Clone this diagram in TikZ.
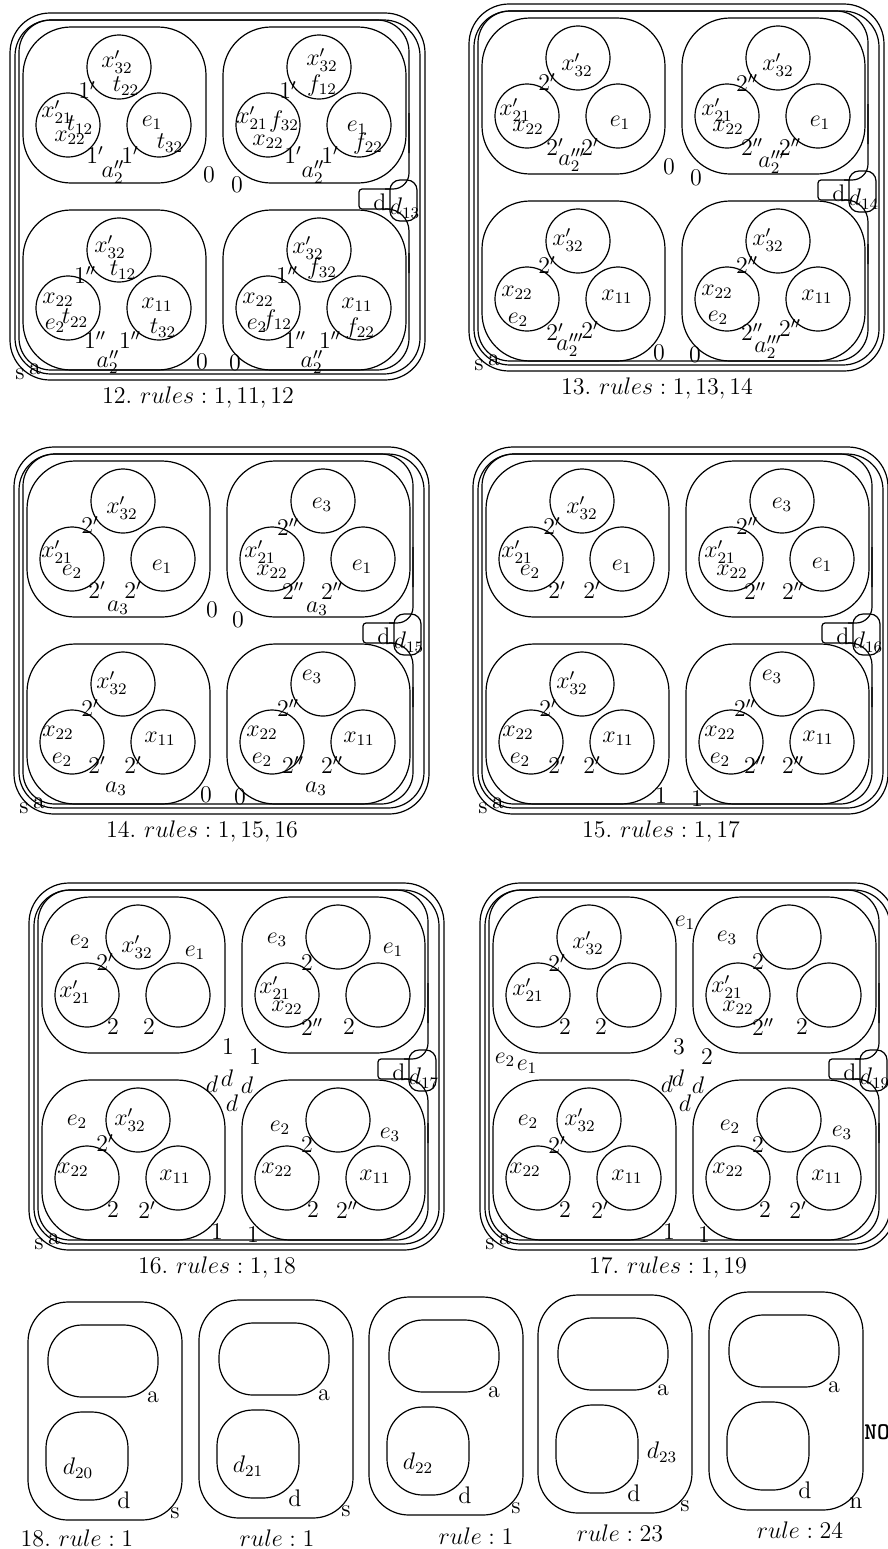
\documentclass[tikz,border=0pt,12pt]{standalone}
\usepackage{amssymb}
\usetikzlibrary{positioning}
\newcounter{lab}
% a text label at a pixel position
\newcommand{\lb}[2]{\stepcounter{lab}\node[lbl] (lab\thelab) at (#1) {#2};}
% one big configuration: skin s, membrane a, membrane d with notch, four cells
\newcommand{\bigpanel}[4]{%
\begin{scope}[shift={(#1,#2)}]
  \draw[memb,rounded corners=20pt] (0,0) rectangle (415,367);
  \draw[memb,rounded corners=18pt] (5,7) rectangle (410,361);
  \draw[memb,rounded corners=16pt] (399,240) -- (399,357) -- (9,357) -- (9,7) -- (399,7) -- (399,140);
  \draw[memb,rounded corners=8pt] (399,100) -- (399,176) -- (375,176);
  \draw[memb,rounded corners=1.5pt] (380,176) -- (349,176) -- (349,196) -- (380,196);
  \draw[memb,rounded corners=11pt] (375,196) -- (399,196) -- (399,260);
  \draw[memb,rounded corners=5pt] (380,167) rectangle (407,208);
  \foreach \cx/\cy/\h in {13/14/156,213/14/156,13/197/160,213/197/160}{
    \draw[memb,rounded corners=24pt] (\cx,\cy) rectangle ++(183,\h);
    \draw[memb] (\cx+96,\cy+40) circle[radius=16pt]
                (\cx+45,\cy+98) circle[radius=16pt]
                (\cx+136,\cy+98) circle[radius=16pt];
  }
  \lb{10,361}{s}
  \lb{25,356}{a}
  \lb{370,189}{d}
  \lb{395,195}{$d_{#3}$}
  \lb{188,384}{#4}
\end{scope}}
% one small configuration of the last row
\newcommand{\smallpair}[3]{%
\begin{scope}[shift={(#1,#2)}]
  \draw[memb,rounded corners=20pt] (0,0) rectangle (154,218);
  \draw[memb,rounded corners=17pt] (20,23) rectangle (130,95);
  \draw[memb,rounded corners=18pt] (18,110) rectangle (100,198);
  \lb{125,95}{a}
  \lb{96,198}{d}
  \lb{147,211}{#3}
\end{scope}}

\begin{document}
\begin{tikzpicture}[
  x=0.5pt,y=-0.5pt,
  memb/.style={draw,line width=0.6pt},
  lbl/.style={inner sep=0pt}
]
\useasboundingbox (0,0) rectangle (888,1549);

% ---- 12 ----
\bigpanel{10}{13}{13}{12.~$rules:1,11,12$}
\lb{117,62}{$x'_{32}$} \lb{126,86}{$t_{22}$} \lb{87,90}{$1'$}
\lb{57,112}{$x'_{21}$} \lb{80,125}{$t_{12}$} \lb{70,138}{$x_{22}$}
\lb{95,155}{$1'$} \lb{130,155}{$1'$} \lb{152,123}{$e_1$} \lb{170,143}{$t_{32}$}
\lb{113,172}{$a''_2$} \lb{209,175}{$0$}
\lb{322,60}{$x'_{32}$} \lb{322,85}{$f_{12}$} \lb{288,90}{$1'$}
\lb{252,118}{$x'_{21}$} \lb{284,121}{$f_{32}$} \lb{268,142}{$x_{22}$}
\lb{293,155}{$1'$} \lb{330,155}{$1'$} \lb{357,128}{$e_1$} \lb{368,143}{$f_{22}$}
\lb{313,172}{$a''_2$} \lb{237,185}{$0$}
\lb{110,247}{$x'_{32}$} \lb{123,270}{$t_{12}$} \lb{85,275}{$1''$}
\lb{58,300}{$x_{22}$} \lb{75,318}{$t_{22}$} \lb{55,326}{$e_2$}
\lb{95,340}{$1''$} \lb{130,340}{$1''$} \lb{157,305}{$x_{11}$} \lb{163,328}{$t_{32}$}
\lb{108,362}{$a''_2$} \lb{202,362}{$0$}
\lb{308,248}{$x'_{32}$} \lb{322,268}{$f_{32}$} \lb{287,275}{$1''$}
\lb{258,300}{$x_{22}$} \lb{277,320}{$f_{12}$} \lb{257,326}{$e_2$}
\lb{295,340}{$1''$} \lb{330,340}{$1''$} \lb{357,305}{$x_{11}$} \lb{360,328}{$f_{22}$}
\lb{312,362}{$a''_2$} \lb{235,363}{$0$}

% ---- 13 ----
\bigpanel{469}{4}{14}{13.~$rules:1,13,14$}
\lb{577,65}{$x'_{32}$} \lb{547,82}{$2'$} \lb{515,110}{$x'_{21}$} \lb{528,128}{$x_{22}$}
\lb{555,147}{$2'$} \lb{590,147}{$2'$} \lb{620,123}{$e_1$} \lb{572,160}{$a'''_2$} \lb{669,167}{$0$}
\lb{778,65}{$x'_{32}$} \lb{747,83}{$2''$} \lb{717,110}{$x'_{21}$} \lb{728,128}{$x_{22}$}
\lb{752,147}{$2''$} \lb{790,147}{$2''$} \lb{820,123}{$e_1$} \lb{772,162}{$a'''_2$} \lb{696,178}{$0$}
\lb{568,240}{$x'_{32}$} \lb{547,265}{$2'$} \lb{517,293}{$x_{22}$} \lb{518,320}{$e_2$}
\lb{555,332}{$2'$} \lb{590,330}{$2'$} \lb{617,297}{$x_{11}$} \lb{570,345}{$a'''_2$} \lb{659,353}{$0$}
\lb{768,240}{$x'_{32}$} \lb{747,265}{$2''$} \lb{717,292}{$x_{22}$} \lb{718,318}{$e_2$}
\lb{752,332}{$2''$} \lb{790,328}{$2''$} \lb{817,297}{$x_{11}$} \lb{768,347}{$a'''_2$} \lb{695,355}{$0$}

% ---- 14 ----
\bigpanel{14}{447}{15}{14.~$rules:1,15,16$}
\lb{122,508}{$x'_{32}$} \lb{90,525}{$2'$} \lb{57,552}{$x'_{21}$} \lb{72,572}{$e_2$}
\lb{97,590}{$2'$} \lb{133,590}{$2'$} \lb{162,567}{$e_1$} \lb{118,608}{$a_3$} \lb{212,610}{$0$}
\lb{322,505}{$e_3$} \lb{288,527}{$2''$} \lb{260,552}{$x'_{21}$} \lb{272,572}{$x_{22}$}
\lb{293,591}{$2''$} \lb{332,591}{$2''$} \lb{362,567}{$e_1$} \lb{317,609}{$a_3$} \lb{238,620}{$0$}
\lb{112,683}{$x'_{32}$} \lb{90,708}{$2'$} \lb{58,733}{$x_{22}$} \lb{62,760}{$e_2$}
\lb{97,765}{$2'$} \lb{133,765}{$2'$} \lb{160,739}{$x_{11}$} \lb{116,789}{$a_3$} \lb{206,795}{$0$}
\lb{312,677}{$e_3$} \lb{288,708}{$2''$} \lb{262,733}{$x_{22}$} \lb{262,760}{$e_2$}
\lb{293,765}{$2''$} \lb{332,765}{$2''$} \lb{359,739}{$x_{11}$} \lb{316,789}{$a_3$} \lb{240,797}{$0$}

% ---- 15 ----
\bigpanel{473}{447}{16}{15.~$rules:1,17$}
\lb{582,508}{$x'_{32}$} \lb{552,526}{$2'$} \lb{517,552}{$x'_{21}$} \lb{530,572}{$e_2$}
\lb{557,590}{$2'$} \lb{592,590}{$2'$} \lb{622,567}{$e_1$}
\lb{782,505}{$e_3$} \lb{747,526}{$2''$} \lb{720,552}{$x'_{21}$} \lb{732,572}{$x_{22}$}
\lb{755,591}{$2''$} \lb{793,591}{$2''$} \lb{822,565}{$e_1$}
\lb{572,683}{$x'_{32}$} \lb{548,708}{$2'$} \lb{518,733}{$x_{22}$} \lb{520,760}{$e_2$}
\lb{557,765}{$2'$} \lb{592,765}{$2'$} \lb{618,739}{$x_{11}$}
\lb{772,677}{$e_3$} \lb{745,708}{$2''$} \lb{720,733}{$x_{22}$} \lb{720,760}{$e_2$}
\lb{755,765}{$2''$} \lb{793,765}{$2''$} \lb{818,738}{$x_{11}$}
\lb{661,796}{$1$} \lb{697,799}{$1$}

% ---- 16 ----
\bigpanel{29}{883}{17}{16.~$rules:1,18$}
\lb{80,942}{$e_2$} \lb{137,947}{$x'_{32}$} \lb{195,953}{$e_1$} \lb{105,962}{$2'$}
\lb{75,992}{$x'_{21}$} \lb{113,1027}{$2$} \lb{149,1027}{$2$} \lb{228,1047}{$1$}
\lb{277,940}{$e_3$} \lb{393,950}{$e_1$} \lb{307,963}{$2$} \lb{275,988}{$x'_{21}$}
\lb{287,1008}{$x_{22}$} \lb{312,1027}{$2''$} \lb{349,1027}{$2$} \lb{255,1057}{$1$}
\lb{212,1084}{$d$} \lb{227,1078}{$d$} \lb{247,1085}{$d$} \lb{232,1103}{$d$}
\lb{77,1122}{$e_2$} \lb{130,1120}{$x'_{32}$} \lb{105,1143}{$2'$} \lb{73,1170}{$x_{22}$}
\lb{175,1177}{$x_{11}$} \lb{113,1210}{$2$} \lb{147,1210}{$2'$} \lb{217,1232}{$1$}
\lb{280,1128}{$e_2$} \lb{390,1135}{$e_3$} \lb{307,1145}{$2$} \lb{277,1170}{$x_{22}$}
\lb{375,1177}{$x_{11}$} \lb{313,1210}{$2$} \lb{347,1210}{$2''$} \lb{253,1235}{$1$}

% ---- 17 ----
\bigpanel{480}{883}{19}{17.~$rules:1,19$}
\lb{588,943}{$x'_{32}$} \lb{685,923}{$e_1$} \lb{557,963}{$2'$} \lb{528,990}{$x'_{21}$}
\lb{565,1027}{$2$} \lb{601,1027}{$2$} \lb{679,1047}{$3$}
\lb{727,938}{$e_3$} \lb{758,962}{$2$} \lb{727,987}{$x'_{21}$} \lb{738,1008}{$x_{22}$}
\lb{763,1027}{$2''$} \lb{802,1027}{$2$} \lb{707,1057}{$2$}
\lb{505,1060}{$e_2$} \lb{527,1067}{$e_1$}
\lb{667,1084}{$d$} \lb{678,1078}{$d$} \lb{698,1085}{$d$} \lb{685,1103}{$d$}
\lb{528,1122}{$e_2$} \lb{580,1120}{$x'_{32}$} \lb{557,1145}{$2'$} \lb{525,1170}{$x_{22}$}
\lb{627,1177}{$x_{11}$} \lb{565,1210}{$2$} \lb{600,1210}{$2'$} \lb{669,1232}{$1$}
\lb{730,1127}{$e_2$} \lb{842,1133}{$e_3$} \lb{758,1145}{$2$} \lb{728,1170}{$x_{22}$}
\lb{827,1177}{$x_{11}$} \lb{765,1210}{$2$} \lb{798,1210}{$2'$} \lb{704,1235}{$1$}

% ---- 18 and the last rules ----
\smallpair{28}{1302}{s}
\smallpair{199}{1300}{s}
\smallpair{369}{1297}{s}
\smallpair{538}{1295}{s}
\smallpair{709}{1292}{n}
\lb{78,1468}{$d_{20}$} \lb{248,1466}{$d_{21}$} \lb{418,1463}{$d_{22}$} \lb{662,1452}{$d_{23}$}
\lb{877,1432}{\texttt{\bfseries NO}}
\lb{77,1538}{18.~$rule:1$} \lb{277,1538}{$rule:1$} \lb{476,1536}{$rule:1$}
\lb{620,1533}{$rule:23$} \lb{800,1530}{$rule:24$}
\end{tikzpicture}
\end{document}
